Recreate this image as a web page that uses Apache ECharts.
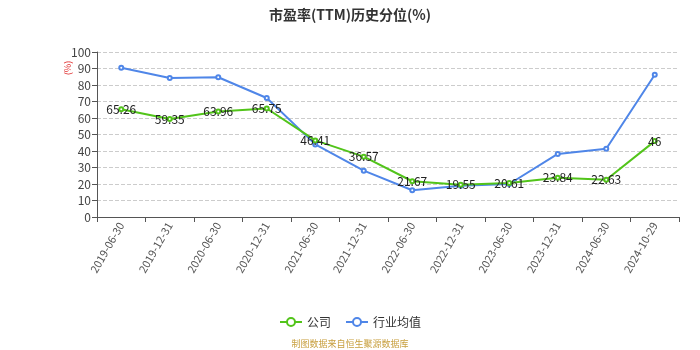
<!DOCTYPE html>
<html>
<head>
<meta charset="utf-8">
<script src="https://cdn.jsdelivr.net/npm/echarts@6/dist/echarts.min.js"></script>
<style>
  html, body { margin: 0; padding: 0; background: #fff; }
  #chart { width: 700px; height: 350px; }
</style>
</head>
<body>
<div id="chart"></div>
<script>
// Reporting dates on the x axis
const categories = ['2019-06-30', '2019-12-31', '2020-06-30', '2020-12-31', '2021-06-30', '2021-12-31',
  '2022-06-30', '2022-12-31', '2023-06-30', '2023-12-31', '2024-06-30', '2024-10-29'];
// PE(TTM) historical percentile, company
const companyValues = [65.26, 59.35, 63.96, 65.75, 46.41, 36.57, 21.67, 19.55, 20.61, 23.84, 22.63, 46];
// PE(TTM) historical percentile, industry average
const industryValues = [90.5, 84.2, 84.7, 72.1, 44.0, 28.1, 16.2, 19.0, 20.0, 38.2, 41.4, 86.2];
const seriesNames = ['公司', '行业均值'];

const chart = echarts.init(document.getElementById('chart'));
const font = 'Microsoft YaHei, "Noto Sans CJK SC", sans-serif';
chart.setOption({
  animation: false,
  textStyle: { fontFamily: font },
  title: {
    text: '市盈率(TTM)历史分位(%)',
    left: 'center',
    top: 3,
    textStyle: { fontSize: 14, fontWeight: 'bold', color: '#333', fontFamily: font }
  },
  legend: {
    data: seriesNames,
    bottom: 17,
    left: 'center',
    itemWidth: 22,
    itemHeight: 10,
    itemGap: 14,
    textStyle: { fontSize: 12, color: '#333' }
  },
  graphic: [
    {
      // unit label beside the value axis
      type: 'text',
      x: 68,
      y: 68,
      rotation: Math.PI / 2,
      style: { text: '(%)', fill: '#e03030', fontSize: 9, fontFamily: font, align: 'center', verticalAlign: 'middle' }
    },
    {
      type: 'text',
      left: 'center',
      top: 339,
      style: { text: '制图数据来自恒生聚源数据库', fill: '#c8a040', fontSize: 9, fontFamily: font }
    }
  ],
  grid: { left: 97, right: 21, top: 52, bottom: 133 },
  xAxis: {
    type: 'category',
    data: categories,
    boundaryGap: true,
    axisLine: { lineStyle: { color: '#555' } },
    axisTick: { show: true, alignWithLabel: false, lineStyle: { color: '#555' } },
    axisLabel: { rotate: 60, fontSize: 11, color: '#555', margin: 6, interval: 0 }
  },
  yAxis: {
    type: 'value',
    min: 0,
    max: 100,
    interval: 10,
    axisLine: { show: true, lineStyle: { color: '#555' } },
    axisTick: { show: true, lineStyle: { color: '#555' } },
    axisLabel: { fontSize: 12, color: '#444', margin: 6 },
    splitLine: { lineStyle: { type: 'dashed', color: '#ccc' } }
  },
  series: [
    {
      name: seriesNames[0],
      type: 'line',
      data: companyValues,
      symbol: 'emptyCircle',
      symbolSize: 4,
      itemStyle: { color: '#52c41a' },
      lineStyle: { width: 2, color: '#52c41a' },
      label: { show: true, position: 'inside', color: '#222', fontSize: 12 },
      z: 3
    },
    {
      name: seriesNames[1],
      type: 'line',
      data: industryValues,
      symbol: 'emptyCircle',
      symbolSize: 4,
      itemStyle: { color: '#4f86e8' },
      lineStyle: { width: 2, color: '#4f86e8' },
      z: 2
    }
  ]
});
</script>
</body>
</html>
